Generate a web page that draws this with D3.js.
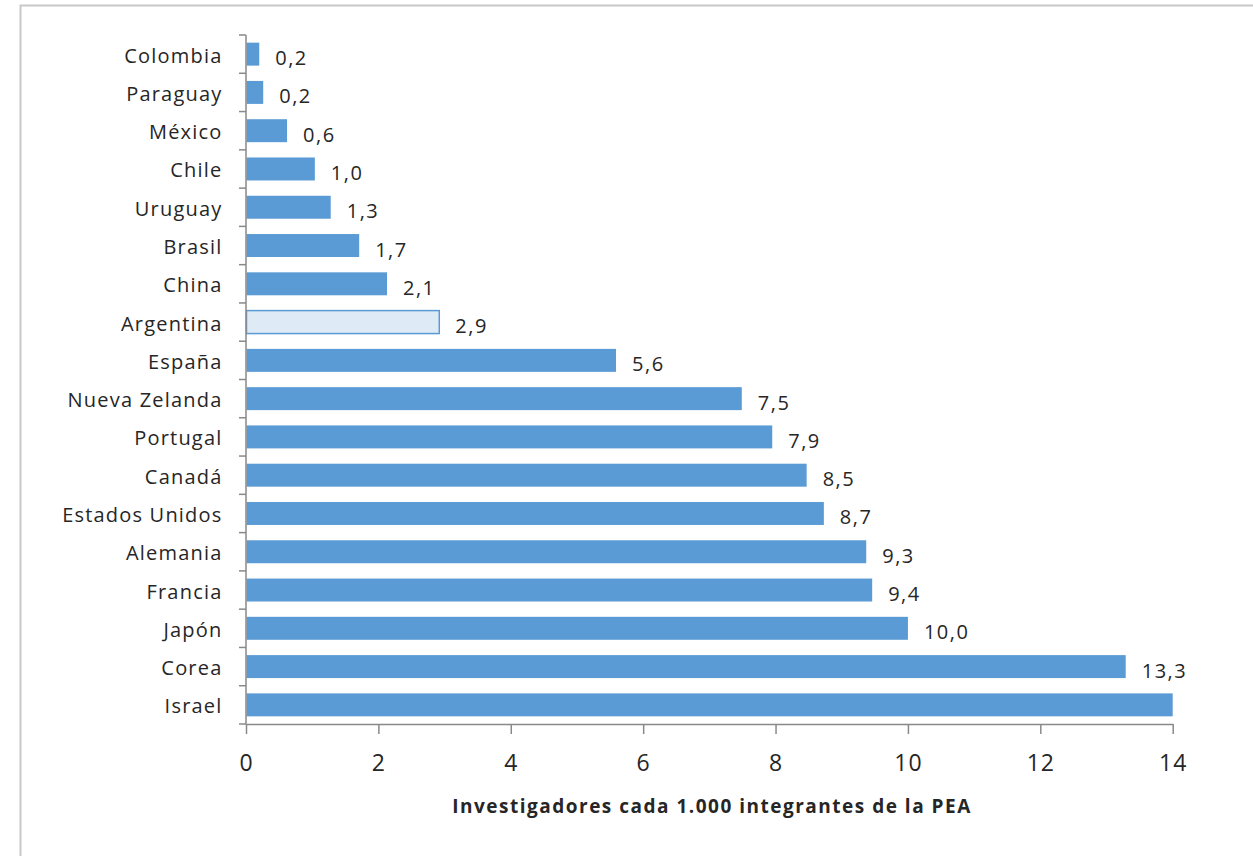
<!DOCTYPE html>
<html><head><meta charset="utf-8">
<script src="https://cdn.jsdelivr.net/npm/d3@7"></script>
<style>body{margin:0;background:#fff;}svg{display:block;font-family:"Open Sans",sans-serif;}</style>
</head><body><svg id="c" width="1253" height="856"></svg>
<script>
const countries = ["Colombia","Paraguay","México","Chile","Uruguay","Brasil","China","Argentina","España","Nueva Zelanda","Portugal","Canadá","Estados Unidos","Alemania","Francia","Japón","Corea","Israel"];
const values = [0.2,0.26,0.62,1.04,1.28,1.71,2.13,2.92,5.59,7.49,7.95,8.47,8.73,9.37,9.46,10.0,13.29,14.0];
const valueLabels = ["0,2","0,2","0,6","1,0","1,3","1,7","2,1","2,9","5,6","7,5","7,9","8,5","8,7","9,3","9,4","10,0","13,3",""];
const xTicks = [0,2,4,6,8,10,12,14];
const highlight = "Argentina";
const axisTitle = "Investigadores cada 1.000 integrantes de la PEA";

const svg = d3.select("#c");
svg.append("rect").attr("x",20.5).attr("y",5.5).attr("width",1260).attr("height",900)
  .attr("fill","#fff").attr("stroke","#c8c8c8").attr("stroke-width",2);

const pLeft=246, pRight=1172.7, pTop=35, pBottom=724;
const x = d3.scaleLinear().domain([0,14]).range([pLeft,pRight]);
const y = d3.scaleBand().domain(countries).range([pTop,pBottom]).paddingInner(0.4).paddingOuter(0.2);

const g = svg.append("g");
g.selectAll("rect.bar").data(countries).join("rect")
  .attr("x",x(0)+0.5).attr("y",d=>y(d))
  .attr("width",(d,i)=>x(values[i])-x(0)-0.5).attr("height",y.bandwidth())
  .attr("fill",d=>d===highlight?"#DEEBF7":"#5B9BD5")
  .attr("stroke",d=>d===highlight?"#5B9BD5":"none").attr("stroke-width",1.5);

g.selectAll("text.val").data(countries).join("text")
  .attr("x",(d,i)=>x(values[i])+16).attr("y",d=>y(d)+y.bandwidth()/2+11)
  .attr("font-size",20).attr("letter-spacing",1.5).attr("fill","#262626").text((d,i)=>valueLabels[i]);

// Y axis
const ya = svg.append("g").attr("transform",`translate(${pLeft},0)`);
ya.append("line").attr("x1",0).attr("x2",0).attr("y1",pTop).attr("y2",pBottom).attr("stroke","#898989").attr("stroke-width",1.5);
const bounds = d3.range(countries.length+1).map(i=>pTop+i*(pBottom-pTop)/countries.length);
ya.selectAll("line.t").data(bounds).join("line").attr("x1",-7).attr("x2",0).attr("y1",d=>d).attr("y2",d=>d).attr("stroke","#898989").attr("stroke-width",1.5);
ya.selectAll("text").data(countries).join("text")
  .attr("x",-23.5).attr("y",d=>y(d)+y.bandwidth()/2+8.5).attr("text-anchor","end")
  .attr("font-size",20).attr("letter-spacing",1.2).attr("fill","#262626").text(d=>d);

// X axis
const xa = svg.append("g").attr("transform",`translate(0,${pBottom})`)
  .call(d3.axisBottom(x).tickValues(xTicks).tickSize(10).tickSizeOuter(0).tickPadding(21).tickFormat(d3.format("d")));
xa.select(".domain").attr("stroke","#898989").attr("stroke-width",1.5);
xa.selectAll(".tick line").attr("stroke","#898989").attr("stroke-width",1.5);
xa.selectAll(".tick text").attr("font-size",23).attr("letter-spacing",1).attr("fill","#262626").attr("font-family","'Open Sans',sans-serif");

svg.append("text").attr("x",712).attr("y",813).attr("text-anchor","middle")
  .attr("font-size",19).attr("letter-spacing",1.5).attr("font-weight","bold").attr("fill","#262626").text(axisTitle);
</script></body></html>
